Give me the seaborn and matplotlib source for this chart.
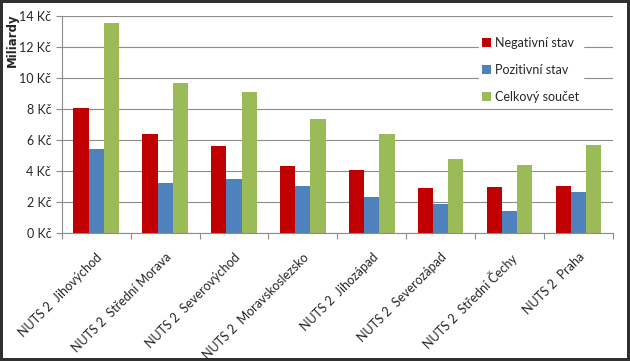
import pandas as pd
import numpy as np
import matplotlib.pyplot as plt
import seaborn as sns
from matplotlib.ticker import FuncFormatter

# data (billions CZK)
regions = ['NUTS 2  Jihovýchod', 'NUTS 2  Střední Morava', 'NUTS 2  Severovýchod',
           'NUTS 2  Moravskoslezsko', 'NUTS 2  Jihozápad', 'NUTS 2  Severozápad',
           'NUTS 2  Střední Čechy', 'NUTS 2  Praha']
negativni = [8.06, 6.39, 5.6, 4.32, 4.06, 2.9, 2.97, 3.03]
pozitivni = [5.42, 3.23, 3.48, 3.03, 2.32, 1.87, 1.42, 2.65]
celkem = [13.55, 9.68, 9.1, 7.35, 6.39, 4.77, 4.39, 5.68]
series = ['Negativní stav', 'Pozitivní stav', 'Celkový součet']
colors = ['#C00000', '#4F81BD', '#9BBB59']

df = pd.DataFrame({'Region': regions, series[0]: negativni,
                   series[1]: pozitivni, series[2]: celkem})
long = df.melt(id_vars='Region', var_name='Stav', value_name='Hodnota')

sns.set_style('white')
plt.rcParams['font.family'] = ['Lato', 'DejaVu Sans']

fig = plt.figure(figsize=(6.3, 3.61), dpi=100, edgecolor='#303030', linewidth=3)
ax = fig.add_axes([0.098, 0.355, 0.875, 0.60])

sns.barplot(data=long, x='Region', y='Hodnota', hue='Stav', palette=colors,
            width=0.66, saturation=1, linewidth=0, ax=ax, legend=True)

ax.set_ylim(0, 14)
ax.set_yticks(range(0, 15, 2))
ax.yaxis.set_major_formatter(FuncFormatter(lambda v, p: f'{int(v)} Kč'))
ax.yaxis.grid(True, color='#8c8c8c', linewidth=0.8)
ax.set_axisbelow(True)
ax.set_xlim(-0.5, len(regions) - 0.5)
ax.set_xticks(np.arange(len(regions) + 1) - 0.5, minor=False)
ax.set_xticklabels([])
ax.set_xticks(np.arange(len(regions)), minor=True)
ax.set_xticklabels(regions, minor=True, rotation=45, ha='right', rotation_mode='anchor',
                   fontsize=9)
ax.tick_params(axis='x', which='minor', length=0, pad=13)
ax.tick_params(axis='x', which='major', length=4, color='#8c8c8c', direction='out', bottom=True)
ax.tick_params(axis='y', length=4, color='#8c8c8c', labelsize=9, direction='out', left=True)
ax.set_xlabel('')
ax.set_ylabel('Miliardy', fontsize=8.5, fontweight='bold', family='DejaVu Sans')
ax.yaxis.set_label_coords(-0.078, 0.89)
for s in ['top', 'right']:
    ax.spines[s].set_visible(False)
for s in ['left', 'bottom']:
    ax.spines[s].set_color('#8c8c8c')
    ax.spines[s].set_linewidth(0.8)

leg = ax.legend(loc='upper left', bbox_to_anchor=(0.745, 0.95), frameon=True, facecolor='white',
                edgecolor='white', fontsize=9, handlelength=0.7, handleheight=0.7,
                handletextpad=0.3, labelspacing=1.2, borderpad=0.3)
leg.get_frame().set_alpha(1)

fig.savefig('out.png', dpi=100, edgecolor=fig.get_edgecolor())
